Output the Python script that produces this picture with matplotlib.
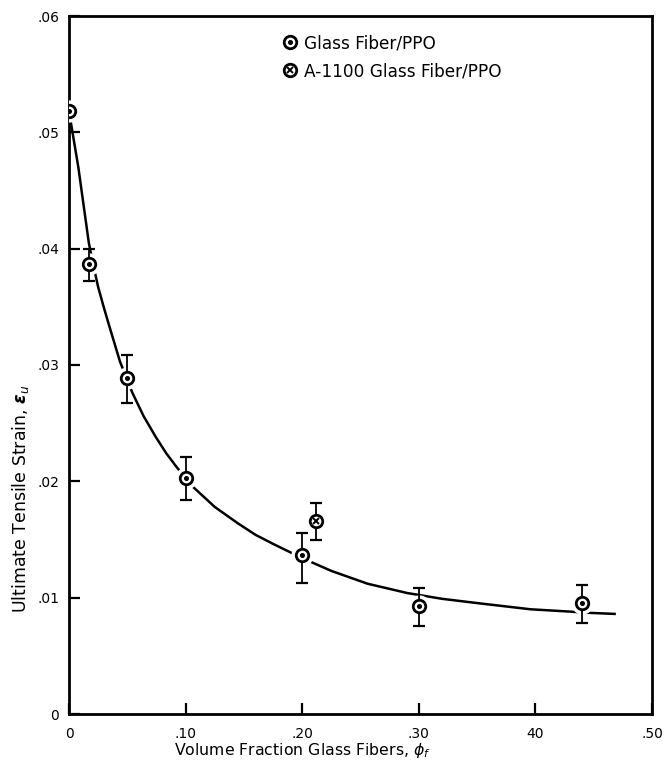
import matplotlib
matplotlib.use("Agg")
import matplotlib.pyplot as plt
from matplotlib.lines import Line2D

# ---- data ----
fiber_x = [0.0, 0.017, 0.05, 0.10, 0.20, 0.30, 0.44]
fiber_y = [0.0518, 0.0387, 0.0289, 0.0203, 0.0137, 0.0093, 0.0095]
fiber_lo = [None, 0.0372, 0.0267, 0.0184, 0.0113, 0.0076, 0.0078]
fiber_hi = [None, 0.0400, 0.0309, 0.0221, 0.0156, 0.0108, 0.0111]

a1100_x = [0.212]
a1100_y = [0.0166]
a1100_lo = [0.0150]
a1100_hi = [0.0181]

curve_x = [0.0, 0.008, 0.017, 0.021, 0.025, 0.030, 0.035, 0.0437, 0.0544, 0.064,
           0.0745, 0.0835, 0.0925, 0.1066, 0.125, 0.1447, 0.160, 0.1755, 0.20,
           0.225, 0.256, 0.290, 0.320, 0.353, 0.396, 0.430, 0.445, 0.469]
curve_y = [0.0518, 0.0470, 0.0405, 0.0385, 0.0367, 0.0349, 0.0332, 0.0303, 0.0276, 0.0256,
           0.0238, 0.0224, 0.0212, 0.0195, 0.0178, 0.0164, 0.0154, 0.0146, 0.0134,
           0.0123, 0.0112, 0.0104, 0.0099, 0.0095, 0.0090, 0.0088, 0.0087, 0.0086]

xticks = [0, 0.10, 0.20, 0.30, 0.40, 0.50]
xticklabels = ["0", ".10", ".20", ".30", "40", ".50"]
yticks = [0, 0.01, 0.02, 0.03, 0.04, 0.05, 0.06]
yticklabels = ["0", ".01", ".02", ".03", ".04", ".05", ".06"]

legend_labels = ["Glass Fiber/PPO", "A-1100 Glass Fiber/PPO"]

plt.rcParams['font.family'] = ['DejaVu Sans']

fig = plt.figure(figsize=(6.69, 7.69), dpi=100)
ax = fig.add_axes([69/669, 1-714/769, 583/669, 698/769])

ax.plot(curve_x, curve_y, color='black', lw=1.8, zorder=2,
        solid_capstyle='butt', solid_joinstyle='round')

# white halos to break the curve around markers
allx = fiber_x + a1100_x
ally = fiber_y + a1100_y
ax.plot(allx, ally, ls='none', marker='o', ms=15, mfc='white', mec='white', zorder=3)

# error bars
ex = fiber_x[1:] + a1100_x
ey = fiber_y[1:] + a1100_y
elo = [y - l for y, l in zip(ey, fiber_lo[1:] + a1100_lo)]
ehi = [h - y for y, h in zip(ey, fiber_hi[1:] + a1100_hi)]
ax.errorbar(ex, ey, yerr=[elo, ehi], fmt='none', ecolor='black', elinewidth=1.3,
            capsize=4.5, capthick=1.6, zorder=4)

# markers: circle with dot
ax.plot(fiber_x, fiber_y, ls='none', marker='o', ms=9, mfc='white', mec='black', mew=2.0, zorder=5)
ax.plot(fiber_x, fiber_y, ls='none', marker='o', ms=2.6, mfc='black', mec='black', zorder=6)
# circle with cross
ax.plot(a1100_x, a1100_y, ls='none', marker='o', ms=9, mfc='white', mec='black', mew=2.0, zorder=5)
ax.plot(a1100_x, a1100_y, ls='none', marker='x', ms=5, mec='black', mew=1.4, zorder=6)

ax.set_xlim(0, 0.5)
ax.set_ylim(0, 0.06)
ax.set_xticks(xticks)
ax.set_xticklabels(xticklabels)
ax.set_yticks(yticks)
ax.set_yticklabels(yticklabels)
ax.tick_params(direction='in', length=8, width=1.6, labelsize=10, pad=7, colors='black')
ax.tick_params(axis='x', pad=9)
for s in ax.spines.values():
    s.set_linewidth(2.0)

ax.set_xlabel("Volume Fraction Glass Fibers, $\\phi_f$", fontsize=11.3)
ax.set_ylabel("Ultimate Tensile Strain, $\\boldsymbol{\\epsilon}_u$", fontsize=12.5)
ax.xaxis.set_label_coords(0.40, -0.038)
ax.yaxis.set_label_coords(-0.066, 0.308)

h1 = (Line2D([], [], ls='none', marker='o', ms=9, mfc='white', mec='black', mew=2.0),
      Line2D([], [], ls='none', marker='o', ms=2.6, mfc='black', mec='black'))
h2 = (Line2D([], [], ls='none', marker='o', ms=9, mfc='white', mec='black', mew=2.0),
      Line2D([], [], ls='none', marker='x', ms=5, mec='black', mew=1.4))
ax.legend([h1, h2], legend_labels, loc='upper left', bbox_to_anchor=(0.366, 0.974),
          frameon=False, fontsize=12.2, handlelength=0.9, handletextpad=0.4,
          borderpad=0, borderaxespad=0, labelspacing=0.6)

fig.savefig("out.png", dpi=100)
